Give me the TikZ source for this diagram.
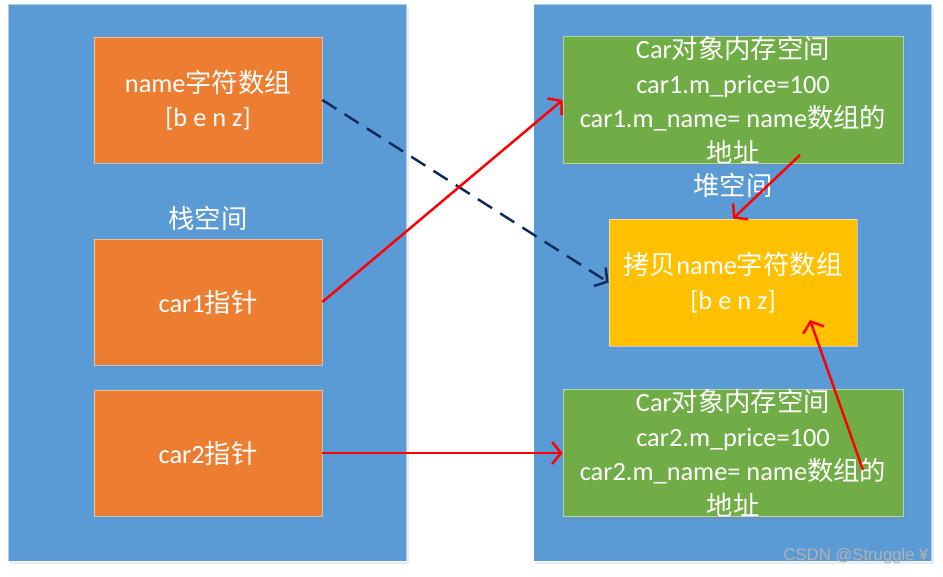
\documentclass[tikz,border=0pt]{standalone}
\usepackage{fontspec}
\setmainfont{Carlito}
\newfontfamily\cjk{Noto Sans CJK SC}
\newfontfamily\markfont{Liberation Sans}
\newcommand{\zh}[1]{{\cjk #1}}
\usepackage{xcolor}
\usepackage{tikz}
\usetikzlibrary{shapes,arrows,positioning,calc,shadows,arrows.meta}

\definecolor{panelblue}{HTML}{5B9BD5}
\definecolor{stackorange}{HTML}{ED7D31}
\definecolor{objgreen}{HTML}{70AD47}
\definecolor{copyyellow}{HTML}{FFC000}
\definecolor{ptrred}{HTML}{FF0000}
\definecolor{navy}{HTML}{0E2A5C}

\begin{document}
\begin{tikzpicture}[
    panel/.style={draw=white, draw opacity=0.5, line width=0.4pt, fill=panelblue, minimum width=7.96cm, minimum height=11.14cm, inner sep=0pt,
        drop shadow={opacity=0.15, shadow xshift=0.04cm, shadow yshift=-0.06cm}},
    cell/.style={draw=white, draw opacity=0.5, line width=0.4pt, text=white, align=center, inner sep=0pt, minimum height=2.52cm,
        font=\fontsize{15}{19.6}\selectfont, drop shadow={opacity=0.25, shadow xshift=0.03cm, shadow yshift=-0.05cm}},
    title/.style={text=white, font=\fontsize{15}{19.6}\selectfont\cjk},
    ptr/.style={draw=ptrred, line width=1.4pt, -{Straight Barb[length=1.8mm, width=4.4mm, line width=1.4pt]}},
    copyptr/.style={draw=navy, line width=1.4pt, dash pattern=on 9.5pt off 5.5pt, -{Straight Barb[length=1.8mm, width=4.4mm, line width=1.4pt]}}
]
    \useasboundingbox (0,0) rectangle (18.86,11.52);

    % stack
    \node[panel] (stack) at (4.15,5.87) {};
    \node[cell, fill=stackorange, minimum width=4.56cm] (namearr) at (4.16,9.52) {name\zh{字符数组}\\{[b e n z]}};
    \node[title] (stacklabel) at (4.16,7.16) {栈空间};
    \node[cell, fill=stackorange, minimum width=4.56cm] (carone) at (4.16,5.48) {car1\zh{指针}};
    \node[cell, fill=stackorange, minimum width=4.56cm] (cartwo) at (4.16,2.46) {car2\zh{指针}};

    % heap
    \node[panel] (heap) at (14.65,5.87) {};
    \node[cell, fill=objgreen, minimum width=6.8cm] (carobjone) at (14.66,9.52)
        {Car\zh{对象内存空间}\\car1.m\_price=100\\car1.m\_name= name\zh{数组的}\\\zh{地址}};
    \node[title] (heaplabel) at (14.66,7.82) {堆空间};
    \node[cell, fill=copyyellow, minimum width=4.96cm, minimum height=2.54cm] (namecopy) at (14.66,5.87) {\zh{拷贝}name\zh{字符数组}\\{[b e n z]}};
    \node[cell, fill=objgreen, minimum width=6.8cm] (carobjtwo) at (14.66,2.46)
        {Car\zh{对象内存空间}\\car2.m\_price=100\\car2.m\_name= name\zh{数组的}\\\zh{地址}};

    % pointers
    \coordinate (nameoneptr) at (16.0,8.42);
    \coordinate (nametwoptr) at (17.26,2.12);
    \coordinate (nametwotip) at (16.2,5.12);
    \draw[copyptr] (namearr.east) -- (namecopy.west);
    \draw[ptr] (carone.east) -- (carobjone.west);
    \draw[ptr] (cartwo.east) -- (carobjtwo.west);
    \draw[ptr] (nameoneptr) -- (namecopy.north);
    \draw[ptr] (nametwoptr) -- (nametwotip);

    % watermark
    \node[text=black!30, font=\markfont\fontsize{9.5}{11}\selectfont] (mark) at (17.12,0.4) {CSDN @Struggle ¥};
\end{tikzpicture}
\end{document}
